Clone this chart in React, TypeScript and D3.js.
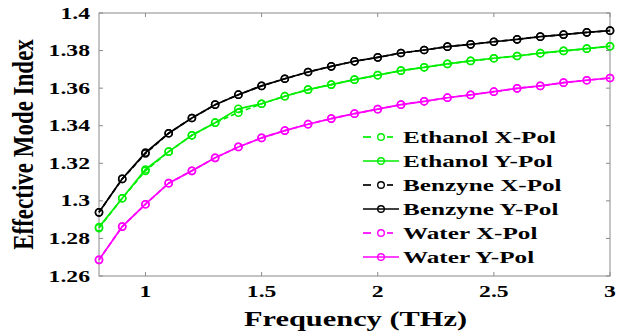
import React from "react";
import * as d3 from "d3";

const freq = [0.8, 0.9, 1.0, 1.1, 1.2, 1.3, 1.4, 1.5, 1.6, 1.7, 1.8, 1.9, 2.0, 2.1, 2.2, 2.3, 2.4, 2.5, 2.6, 2.7, 2.8, 2.9, 3.0];

const ethanolY = [1.2860, 1.3014, 1.3167, 1.3262, 1.3349, 1.3416, 1.3490, 1.3517, 1.3557, 1.3592, 1.3619, 1.3645, 1.3669, 1.3693, 1.3711, 1.3729, 1.3745, 1.3759, 1.3771, 1.3786, 1.3798, 1.3810, 1.3823];
const ethanolX = [1.2855, 1.3014, 1.3160, 1.3262, 1.3349, 1.3416, 1.3470, 1.3517, 1.3557, 1.3592, 1.3619, 1.3645, 1.3669, 1.3693, 1.3711, 1.3729, 1.3745, 1.3759, 1.3771, 1.3786, 1.3798, 1.3810, 1.3823];
const benzyneY = [1.2939, 1.3117, 1.3257, 1.3360, 1.3441, 1.3512, 1.3565, 1.3612, 1.3650, 1.3686, 1.3716, 1.3743, 1.3764, 1.3787, 1.3803, 1.3821, 1.3833, 1.3847, 1.3860, 1.3874, 1.3885, 1.3897, 1.3906];
const benzyneX = [1.2939, 1.3117, 1.3252, 1.3360, 1.3441, 1.3512, 1.3565, 1.3612, 1.3650, 1.3686, 1.3716, 1.3743, 1.3764, 1.3787, 1.3803, 1.3821, 1.3833, 1.3847, 1.3860, 1.3874, 1.3885, 1.3897, 1.3906];
const waterY = [1.2686, 1.2863, 1.2982, 1.3094, 1.3160, 1.3229, 1.3287, 1.3335, 1.3374, 1.3408, 1.3438, 1.3464, 1.3488, 1.3512, 1.3530, 1.3549, 1.3564, 1.3581, 1.3599, 1.3612, 1.3629, 1.3642, 1.3654];
const waterX = [1.2686, 1.2863, 1.2982, 1.3094, 1.3160, 1.3229, 1.3287, 1.3335, 1.3374, 1.3408, 1.3438, 1.3464, 1.3488, 1.3512, 1.3530, 1.3549, 1.3564, 1.3581, 1.3599, 1.3612, 1.3629, 1.3642, 1.3654];

const xTicks = [1, 1.5, 2, 2.5, 3];
const yTicks = [1.26, 1.28, 1.3, 1.32, 1.34, 1.36, 1.38, 1.4];
const xTickLabels = ["1", "1.5", "2", "2.5", "3"];
const yTickLabels = ["1.26", "1.28", "1.3", "1.32", "1.34", "1.36", "1.38", "1.4"];

const seriesNames = ["Ethanol X-Pol", "Ethanol Y-Pol", "Benzyne X-Pol", "Benzyne Y-Pol", "Water X-Pol", "Water Y-Pol"];
const seriesValues = [ethanolX, ethanolY, benzyneX, benzyneY, waterX, waterY];
const seriesColors = ["#00ee00", "#00ee00", "#000000", "#000000", "#ff00ff", "#ff00ff"];
const seriesDashed = [true, false, true, false, true, false];

const W = 620, H = 331;
const M = { left: 99, right: 10, top: 13, bottom: 55 };
const SX = 1.48;
const FONT = "'Liberation Serif', 'Times New Roman', serif";
const tStyle = { fontFamily: FONT, fontWeight: 700 as const };

export default function App() {
  const x = d3.scaleLinear().domain([0.8, 3]).range([M.left, W - M.right]);
  const y = d3.scaleLinear().domain([1.26, 1.4]).range([H - M.bottom, M.top]);
  const line = d3.line<[number, number]>().x(d => x(d[0])).y(d => y(d[1]));
  const x0 = M.left, x1 = W - M.right, y0 = H - M.bottom, y1 = M.top;
  const tl = 4;
  const frame = "#8a8a8a";

  const legX = 363, legTextX = 403, legY0 = 137, legDy = 24;

  return (
    <>
      <style>{`body{margin:0}`}</style>
      <svg width={W} height={H} style={{ display: "block", background: "#fff" }}>
        <rect x={x0} y={y1} width={x1 - x0} height={y0 - y1} fill="none" stroke={frame} strokeWidth={1} />
        {xTicks.map((t, i) => (
          <g key={"xt" + i}>
            <line x1={x(t)} x2={x(t)} y1={y0} y2={y0 - tl} stroke={frame} />
            <line x1={x(t)} x2={x(t)} y1={y1} y2={y1 + tl} stroke={frame} />
            <text transform={`translate(${x(t)},${y0 + 21}) scale(${SX},1)`} textAnchor="middle" fontSize={16} style={tStyle}>{xTickLabels[i]}</text>
          </g>
        ))}
        {yTicks.map((t, i) => (
          <g key={"yt" + i}>
            <line x1={x0} x2={x0 + tl} y1={y(t)} y2={y(t)} stroke={frame} />
            <line x1={x1} x2={x1 - tl} y1={y(t)} y2={y(t)} stroke={frame} />
            <text transform={`translate(${x0 - 9},${y(t) + 5.5}) scale(${SX},1)`} textAnchor="end" fontSize={16} style={tStyle}>{yTickLabels[i]}</text>
          </g>
        ))}
        <text transform={`translate(${(x0 + x1) / 2 + 1},${y0 + 50}) scale(1.52,1)`} textAnchor="middle" fontSize={20} style={tStyle}>Frequency (THz)</text>
        <text transform={`translate(33,${(y0 + y1) / 2}) rotate(-90) scale(1,1.3)`} textAnchor="middle" fontSize={23} style={tStyle}>Effective Mode Index</text>

        {seriesValues.map((vals, si) => {
          const pts: [number, number][] = freq.map((f, i) => [f, vals[i]]);
          return (
            <g key={"s" + si}>
              <path d={line(pts) || ""} fill="none" stroke={seriesColors[si]} strokeWidth={1.7} strokeDasharray={seriesDashed[si] ? "5,3" : undefined} />
              {pts.map((p, i) => (
                <circle key={i} cx={x(p[0])} cy={y(p[1])} r={3.6} fill="none" stroke={seriesColors[si]} strokeWidth={1.5} />
              ))}
            </g>
          );
        })}

        {seriesNames.map((name, i) => {
          const ly = legY0 + i * legDy;
          const c = seriesColors[i];
          return (
            <g key={"l" + i}>
              {seriesDashed[i] ? (
                <>
                  <line x1={legX} x2={legX + 8} y1={ly} y2={ly} stroke={c} strokeWidth={1.7} />
                  <line x1={legX + 24} x2={legX + 30} y1={ly} y2={ly} stroke={c} strokeWidth={1.7} />
                </>
              ) : (
                <line x1={legX} x2={legX + 36} y1={ly} y2={ly} stroke={c} strokeWidth={1.7} />
              )}
              <circle cx={legX + 18} cy={ly} r={3.3} fill="none" stroke={c} strokeWidth={1.4} />
              <text transform={`translate(${legTextX},${ly + 6}) scale(${SX},1)`} fontSize={17} style={tStyle}>{name}</text>
            </g>
          );
        })}
      </svg>
    </>
  );
}
